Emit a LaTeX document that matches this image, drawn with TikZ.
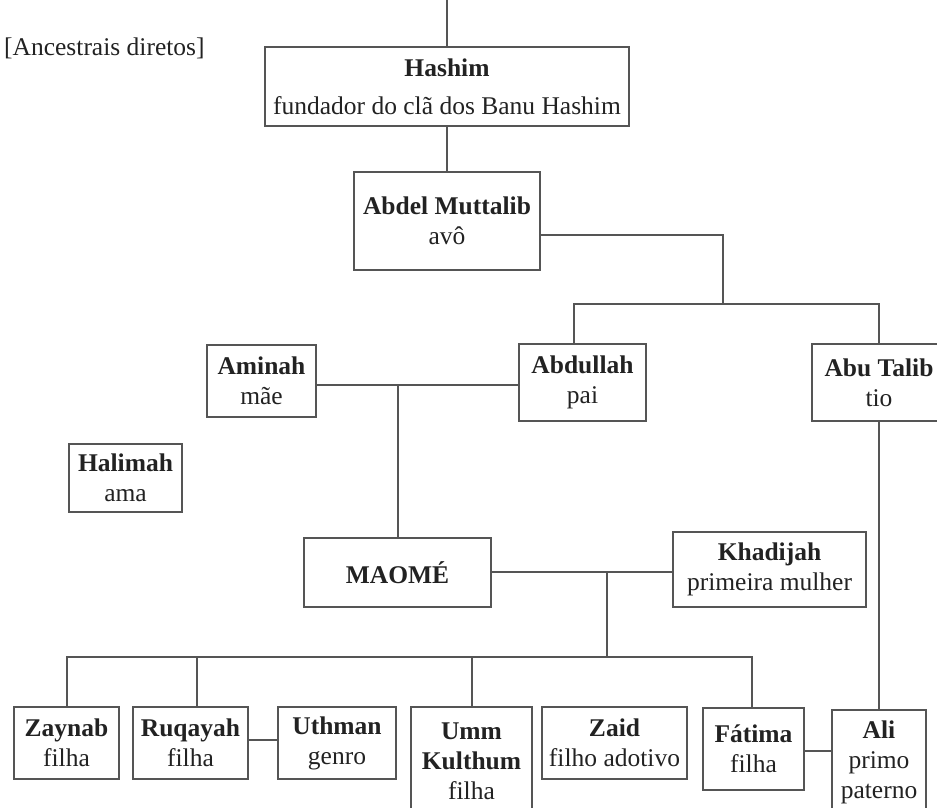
\documentclass[tikz,border=0pt]{standalone}
\usepackage{fontspec}
\setmainfont{Liberation Serif}
\definecolor{lncol}{HTML}{555555}
\definecolor{txt}{HTML}{222222}
\newcommand\fs{\fontsize{25.5}{30}\selectfont}
\tikzset{
  bx/.style={draw=lncol, line width=1.4pt, inner sep=0pt, align=center, font=\fs, text=txt},
  cn/.style={draw=lncol, line width=1.4pt},
  lbl/.style={inner sep=0pt, font=\fs, text=txt}
}
\begin{document}
\begin{tikzpicture}[x=1pt, y=-1pt]
\useasboundingbox (0,0) rectangle (937,808);
% label
\node[lbl, anchor=west] (anc) at (4,48) {[Ancestrais diretos]};
% boxes
\node[bx, minimum width=364pt, minimum height=79pt] (hashim) at (447,86.5)
  {\textbf{Hashim}\\[8pt]fundador do clã dos Banu Hashim};
\node[bx, minimum width=186pt, minimum height=98pt] (abdel) at (447,221)
  {\textbf{Abdel Muttalib}\\avô};
\node[bx, minimum width=109pt, minimum height=72pt] (aminah) at (261.5,381)
  {\textbf{Aminah}\\mãe};
\node[bx, minimum width=127pt, minimum height=77pt] (abdullah) at (582.5,382.5)
  {\textbf{Abdullah}\\pai};
\node[bx, minimum width=134pt, minimum height=77pt] (abutalib) at (879,382.5)
  {\textbf{Abu Talib}\\tio};
\node[bx, minimum width=113pt, minimum height=68pt] (halimah) at (125.5,478)
  {\textbf{Halimah}\\ama};
\node[bx, minimum width=187pt, minimum height=69pt] (maome) at (397.5,572.5)
  {\textbf{MAOMÉ}};
\node[bx, minimum width=193pt, minimum height=75pt] (khadijah) at (769.5,569.5)
  {\textbf{Khadijah}\\primeira mulher};
\node[bx, minimum width=105pt, minimum height=72pt] (zaynab) at (66.5,743)
  {\textbf{Zaynab}\\filha};
\node[bx, minimum width=115pt, minimum height=72pt] (ruqayah) at (190.5,743)
  {\textbf{Ruqayah}\\filha};
\node[bx, minimum width=118pt, minimum height=72pt] (uthman) at (337,743)
  {\textbf{Uthman}\\genro};
\node[bx, minimum width=121pt, minimum height=108pt] (umm) at (471.5,761)
  {\textbf{Umm}\\\textbf{Kulthum}\\filha};
\node[bx, minimum width=145pt, minimum height=72pt] (zaid) at (614.5,743)
  {\textbf{Zaid}\\filho adotivo};
\node[bx, minimum width=101pt, minimum height=82pt] (fatima) at (753.5,749)
  {\textbf{Fátima}\\filha};
\node[bx, minimum width=94pt, minimum height=104pt] (ali) at (879,762)
  {\textbf{Ali}\\primo\\paterno};
% junction coordinates
\coordinate (top) at (447,0);
\coordinate (abJ) at (723,304);
\coordinate (barL) at (574,304);
\coordinate (barR) at (879,304);
\coordinate (parJ) at (398,385);
\coordinate (mkJ) at (607,572);
\coordinate (kidJ) at (607,657);
\coordinate (kidL) at (67,657);
\coordinate (kidR) at (752,657);
% connectors
\draw[cn] (top) -- (hashim.north);
\draw[cn] (hashim) -- (abdel);
\draw[cn] (abdel.east |- 0,235) -| (abJ);
\draw[cn] (abdullah.north -| barL) -- (barL) -- (barR) -- (abutalib.north -| barR);
\draw[cn] (aminah.east |- parJ) -- (abdullah.west |- parJ);
\draw[cn] (parJ) -- (maome.north -| parJ);
\draw[cn] (maome.east |- mkJ) -- (khadijah.west |- mkJ);
\draw[cn] (mkJ) -- (kidJ);
\draw[cn] (zaynab.north -| kidL) -- (kidL) -- (kidR) -- (fatima.north -| kidR);
\draw[cn] (ruqayah.north -| 197,0) -- (197,657);
\draw[cn] (umm.north -| 472,0) -- (472,657);
\draw[cn] (ruqayah.east |- 0,740) -- (uthman.west |- 0,740);
\draw[cn] (fatima.east |- 0,751) -- (ali.west |- 0,751);
\draw[cn] (abutalib.south) -- (ali.north);
\end{tikzpicture}
\end{document}
